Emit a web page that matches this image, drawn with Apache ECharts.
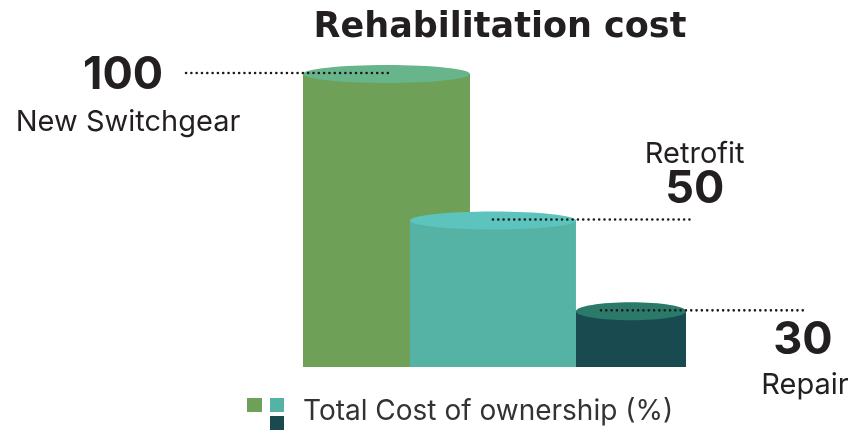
<!DOCTYPE html>
<html>
<head>
<meta charset="utf-8">
<script src="https://cdn.jsdelivr.net/npm/echarts@6/dist/echarts.min.js"></script>
<style>
  html, body { margin: 0; padding: 0; background: #fff; }
  #chart { width: 853px; height: 432px; }
</style>
</head>
<body>
<div id="chart"></div>
<script>
// data
const chartTitle = "Rehabilitation cost";
const categories = ["New Switchgear", "Retrofit", "Repair"];
const barValues = [100, 50, 19];      // drawn height of each cylinder
const labelValues = [100, 50, 30];    // printed numbers
const legendName = "Total Cost of ownership (%)";

// styles
const bodyColors = ["#6ea058", "#55b3a5", "#184a50"];
const topColors = ["#68b48b", "#5cc4bc", "#2b7a69"];
const FONT = "Inter";
const TITLE_FONT = "DejaVu Sans";
const TEXT = "#231f20";

// placement of each cylinder, in band widths
const barLayout = [
  { shift: 0.154, width: 1.308, lineFrom: -1.57, lineTo: 0.03, side: "left" },
  { shift: -0.012, width: 1.30, lineFrom: 0, lineTo: 1.58, side: "right" },
  { shift: 0.069, width: 0.862, lineFrom: -0.235, lineTo: 1.347, side: "right" },
];

const myChart = echarts.init(document.getElementById("chart"));

function renderItem(params, api) {
  const i = params.dataIndex;
  const lay = barLayout[i];
  const band = api.size([1, 0])[0];
  const base = api.coord([i, 0]);
  const top = api.coord([i, api.value(1)]);
  const cx = base[0] + lay.shift * band;
  const w = lay.width * band;
  const cy = top[1];
  const lx0 = cx + lay.lineFrom * band;
  const lx1 = cx + lay.lineTo * band;
  const ly = cy - 1;
  const endX = lay.side === "left" ? lx0 : lx1;

  const children = [
    {
      type: "rect",
      shape: { x: cx - w / 2, y: cy, width: w, height: base[1] - cy },
      style: { fill: bodyColors[i] },
    },
    {
      type: "ellipse",
      shape: { cx: cx, cy: cy, rx: w / 2, ry: 9 },
      style: { fill: topColors[i] },
    },
    {
      type: "line",
      shape: { x1: lx0, y1: ly, x2: lx1, y2: ly },
      style: { stroke: "#1a1a1a", lineWidth: 2.6, lineCap: "round", lineDash: [0.01, 5.3] },
    },
  ];

  let numPos, namePos;
  if (i === 0) {
    numPos = [endX - 63, ly + 2];
    namePos = [endX - 58, ly + 49];
  } else if (i === 1) {
    numPos = [endX, ly - 30];
    namePos = [endX, ly - 65];
  } else {
    numPos = [endX, ly + 30];
    namePos = [endX + 2, ly + 75];
  }
  children.push({
    type: "text",
    style: {
      x: numPos[0], y: numPos[1], text: String(labelValues[i]),
      font: "bold 45px '" + FONT + "'", fill: TEXT,
      align: "center", verticalAlign: "middle",
    },
  });
  children.push({
    type: "text",
    style: {
      x: namePos[0], y: namePos[1], text: categories[i],
      font: "29px '" + FONT + "'", fill: TEXT,
      align: "center", verticalAlign: "middle",
    },
  });
  return { type: "group", children: children };
}

const option = {
  animation: false,
  title: {
    text: chartTitle,
    left: 495,
    textAlign: "center",
    top: 5,
    textStyle: { fontFamily: TITLE_FONT, fontWeight: "bold", fontSize: 35, color: TEXT },
  },
  grid: { left: 303, right: 167, top: 74, bottom: 65 },
  xAxis: { type: "category", data: categories, show: false },
  yAxis: { type: "value", min: 0, max: 100, show: false },
  series: [
    {
      type: "custom",
      clip: false,
      renderItem: renderItem,
      encode: { x: 0, y: 1 },
      data: categories.map((c, i) => [i, barValues[i]]),
    },
  ],
  graphic: [
    { type: "rect", shape: { x: 247, y: 398, width: 15, height: 14 }, style: { fill: bodyColors[0] } },
    { type: "rect", shape: { x: 270, y: 398, width: 14, height: 14 }, style: { fill: bodyColors[1] } },
    { type: "rect", shape: { x: 270, y: 416, width: 14, height: 14 }, style: { fill: bodyColors[2] } },
    {
      type: "text",
      x: 303, y: 412,
      style: {
        text: legendName, font: "28px '" + FONT + "'", fill: "#333",
        align: "left", verticalAlign: "middle",
      },
    },
  ],
};

myChart.setOption(option);
</script>
</body>
</html>
